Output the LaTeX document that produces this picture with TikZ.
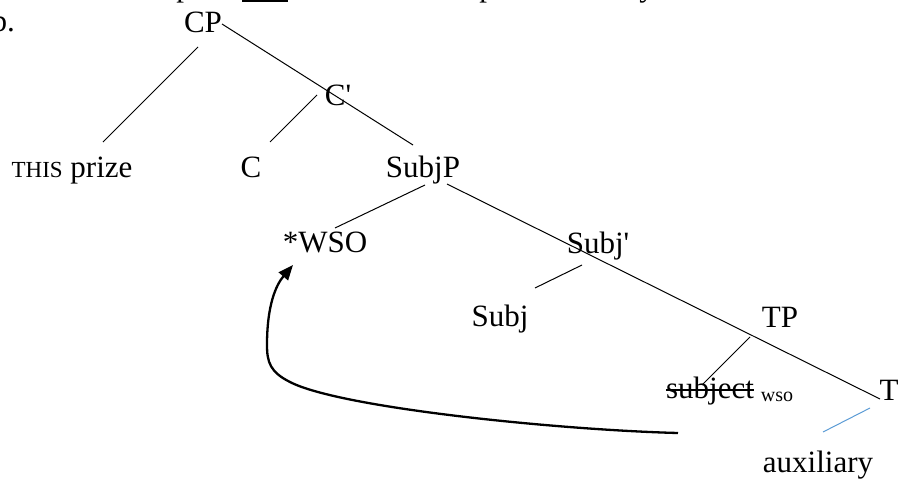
\documentclass[tikz,border=0pt]{standalone}
\usepackage{fontspec}
\setmainfont{Liberation Serif}
\usetikzlibrary{arrows.meta}
\tikzset{
  lbl/.style={inner sep=0pt, anchor=base, font=\fontsize{31}{37}\selectfont},
  br/.style={line width=1pt, black},
  brblue/.style={line width=1pt, color={rgb,255:red,91;green,155;blue,213}},
  strike/.style={line width=1.4pt, black},
  mv/.style={line width=2.3pt, -{Triangle[length=15pt,width=12pt]}}
}
\newcommand{\smc}[1]{{\fontsize{23}{27}\selectfont #1}}
\begin{document}
\begin{tikzpicture}[x=1pt,y=-1pt]
\useasboundingbox (0,0) rectangle (898,479);
\begin{scope}
\clip (0,0) rectangle (898,479);
% cut-off fragments of the line above
\node[lbl] (f1) at (184,-4) {p};
\node[lbl] (f2) at (487,-4) {p};
\node[lbl] (f3) at (647,-4) {y};
\fill (242,0) rectangle (288,1.6);
\node[lbl, anchor=base east] (lab) at (15,31) {b.};
\end{scope}

\node[lbl] (CP) at (203,32) {CP};
\node[lbl] (Cbar) at (338,105) {C\textquotesingle};
\node[lbl] (prize) at (72,177) {\smc{THIS} prize};
\node[lbl] (C) at (251,177) {C};
\node[lbl] (SubjP) at (423,177) {SubjP};
\node[lbl] (WSO) at (325,252) {*WSO};
\node[lbl] (Subjbar) at (598,253) {Subj\textquotesingle};
\node[lbl] (Subj) at (500,326) {Subj};
\node[lbl] (TP) at (780,327) {TP};
\node[lbl] (subj) at (710,398) {subject};
\node[lbl, font=\fontsize{20}{24}\selectfont] (wso) at (777,401) {wso};
\node[lbl] (T) at (889,400) {T};
\node[lbl] (aux) at (818,472) {auxiliary};

\draw[strike] ([yshift=8pt]subj.base west) -- ([yshift=8pt]subj.base east);

\draw[br] ([shift={(-5,15)}]CP.base) -- ([shift={(31,-35)}]prize.base);
\draw[br] ([shift={(19,-8)}]CP.base) -- ([shift={(-10,-32)}]SubjP.base);
\draw[br] ([shift={(-21,-10)}]Cbar.base) -- ([shift={(19,-35)}]C.base);
\draw[br] ([shift={(2,8)}]SubjP.base) -- ([shift={(10,-24)}]WSO.base);
\draw[br] ([shift={(24,7)}]SubjP.base) -- ([shift={(-9,-1)}]T.base);
\draw[br] ([shift={(-16,12)}]Subjbar.base) -- ([shift={(35,-38)}]Subj.base);
\draw[br] ([shift={(-30,10)}]TP.base) -- ([shift={(-8,-13)}]subj.base);
\draw[brblue] ([shift={(-19,8)}]T.base) -- ([shift={(5,-40)}]aux.base);

\draw[mv] ([shift={(-32,35)}]subj.base)
  .. controls (560,430) and (340,408) .. (290,382)
  .. controls (270,372) and (267,362) .. (267,345)
  .. controls (267,305) and (276,285) .. ([shift={(-32,13)}]WSO.base);
\end{tikzpicture}
\end{document}
